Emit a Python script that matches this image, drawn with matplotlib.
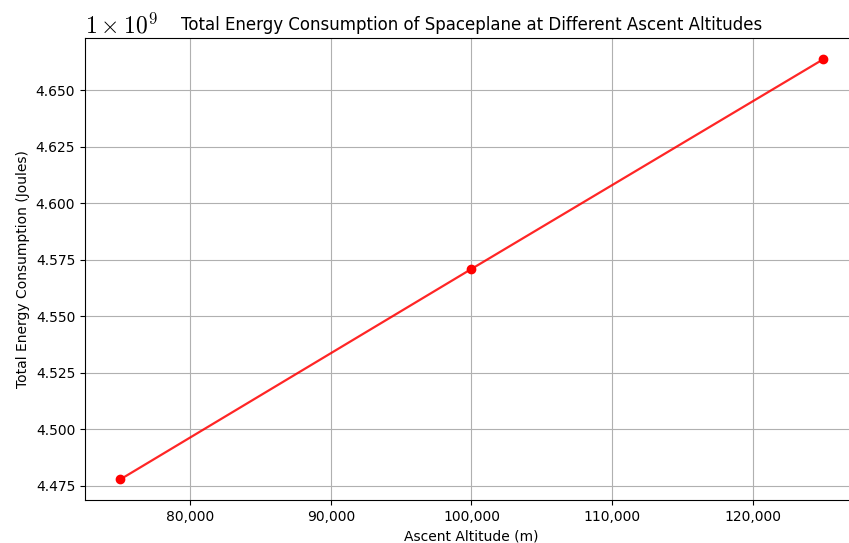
import numpy as np
import matplotlib
matplotlib.use("Agg")
import matplotlib.pyplot as plt
from matplotlib.ticker import FuncFormatter

plt.rcParams['mathtext.fontset'] = 'cm'

# ascent altitudes (m) and total energy (J)
altitudes = [75000, 100000, 125000]
energy    = [4.4778e9, 4.5710e9, 4.6637e9]
scale     = 1e9

fig = plt.figure(figsize=(8.49, 5.43), dpi=100)
ax  = fig.add_axes([0.1001, 0.0783, 0.9105, 0.8508])

y_vals = [e / scale for e in energy]
ax.plot(altitudes, y_vals, color='red', linewidth=1.6, alpha=0.85)
ax.plot(altitudes, y_vals, color='red', marker='o', linestyle='none',
        markersize=6)

ax.set_title("Total Energy Consumption of Spaceplane at Different Ascent Altitudes",
             fontsize=12)
ax.set_xlabel("Ascent Altitude (m)")
ax.set_ylabel("Total Energy Consumption (Joules)")
ax.grid(True)
ax.spines['right'].set_visible(False)

ax.xaxis.set_major_formatter(FuncFormatter(lambda v, p: f"{v:,.0f}"))
ax.yaxis.set_major_formatter(FuncFormatter(lambda v, p: f"{v:.3f}"))
# offset label drawn by hand, matching "1 x 10^9"
ax.text(0, 1.0, r"$1 \times 10^{9}$", transform=ax.transAxes,
        ha='left', va='bottom', fontsize=17)

fig.savefig("out.png", dpi=100)
